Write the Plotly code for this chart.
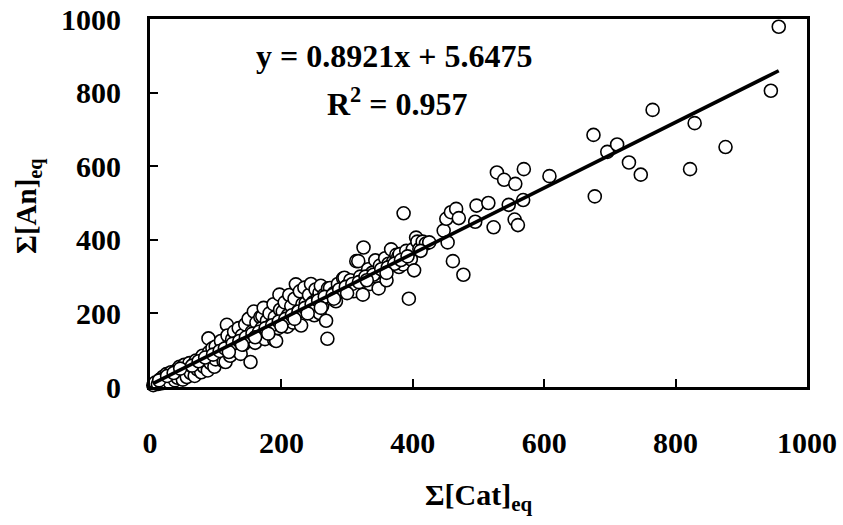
import plotly.graph_objects as go

cat_eq = [5, 8, 12, 15, 18, 20, 22, 25, 28, 30, 32, 35, 38, 40, 42, 45, 48, 50, 52, 55, 56, 58, 60, 62, 65, 68,
          70, 72, 75, 78, 80, 82, 85, 88, 89, 90, 92, 95, 95, 98, 100, 100,
          105, 108, 110, 112, 115, 117, 118, 120, 122, 125, 128, 130, 132, 135, 138, 140, 142, 145, 148, 150,
          153, 155, 158, 160, 162, 165, 168, 170, 171, 173, 175, 178, 180, 182, 185, 188, 189, 190, 192, 195,
          197, 198, 200,
          202, 205, 209, 210, 212, 215, 218, 220, 222, 225, 228, 230, 232, 235, 237, 240, 242, 245, 248, 250,
          252, 255, 258, 258, 260, 262, 265, 268, 270, 271, 274, 276, 280, 283, 286, 290, 294, 296, 300,
          305, 310, 314, 317, 320, 324, 325, 329, 332, 335, 338, 343, 345, 348, 350, 355, 358, 360, 363, 367,
          370, 375, 378, 379, 380, 385, 386, 390, 394, 397, 400, 402, 405, 407, 410, 415, 420, 425,
          447, 451, 453, 458, 461, 466, 470, 477, 495, 497, 515, 523, 528, 539, 546, 555, 556, 560, 568, 569,
          608, 675, 677, 696, 711, 729, 747, 765, 822, 829, 876, 945, 957,
          14, 26, 36, 46, 64, 74, 84, 96, 106, 114, 126, 136, 146, 156, 166, 176, 186, 196, 206, 216, 226,
          236, 246, 256, 266, 278, 288, 298, 308, 318, 328, 340, 352, 362, 372, 382, 392, 412,
          120, 140, 160, 180, 200, 220, 240, 260, 280, 300, 330, 360]
an_eq = [5, 12, 8, 20, 10, 28, 15, 35, 22, 12, 40, 30, 18, 45, 25, 55, 35, 20, 60, 42, 27, 50, 65, 38, 55, 30,
         72, 48, 60, 40, 85, 55, 70, 45, 132, 95, 65, 105, 80, 55, 110, 75,
         90, 125, 100, 70, 68, 169, 140, 110, 85, 130, 150, 100, 120, 160, 90, 140, 115, 170, 130, 185,
         68, 150, 205, 120, 175, 140, 190, 160, 192, 215, 130, 180, 150, 200, 170, 225, 128, 190, 125, 160,
         251, 210, 180,
         205, 230, 164, 195, 250, 220, 175, 240, 279, 205, 260, 167, 225, 270, 228, 210, 250, 280, 230, 195,
         265, 240, 201, 256, 275, 220, 250, 180, 131, 268, 269, 240, 255, 233, 280, 260, 295, 297, 275,
         290, 260, 342, 342, 300, 251, 379, 297, 320, 280, 310, 344, 300, 268, 330, 310, 350, 290, 335, 374,
         340, 359, 355, 326, 361, 333, 472, 370, 240, 347, 374, 317, 406, 395, 375, 395, 390, 393,
         425, 457, 393, 475, 342, 484, 459, 305, 449, 493, 500, 434, 583, 563, 495, 455, 552, 440, 508, 592,
         573, 685, 518, 639, 659, 610, 577, 753, 592, 717, 652, 805, 979,
         18, 30, 38, 50, 58, 70, 80, 88, 98, 105, 118, 125, 135, 145, 150, 160, 168, 178, 185, 195, 205,
         215, 225, 235, 245, 250, 265, 272, 280, 285, 300, 305, 320, 325, 335, 345, 355, 370,
         95, 115, 135, 145, 165, 185, 200, 215, 240, 255, 290, 310]

slope = 0.8921
intercept = 5.6475
eq_text = "y = 0.8921x + 5.6475"
r2_text = "R<sup>2</sup> = 0.957"
x_ticks = [0, 200, 400, 600, 800, 1000]
y_ticks = [0, 200, 400, 600, 800, 1000]

font_family = "Liberation Serif, Times New Roman, serif"

line_x = [min(cat_eq), max(cat_eq)]
line_y = [slope * v + intercept for v in line_x]

fig = go.Figure()
fig.add_trace(go.Scatter(
    x=cat_eq, y=an_eq, mode="markers",
    marker=dict(symbol="circle", size=13, color="white", line=dict(color="black", width=1.6)),
    cliponaxis=False, showlegend=False,
))
fig.add_trace(go.Scatter(
    x=line_x, y=line_y, mode="lines",
    line=dict(color="black", width=3.6), showlegend=False,
))

axis_common = dict(
    showgrid=False, zeroline=False, showline=True, linecolor="black", linewidth=3,
    mirror=True, ticks="inside", ticklen=8, tickwidth=2, tickcolor="black",
    ticklabeloverflow="allow",
    tickfont=dict(family=font_family, size=30, color="black", weight="bold"),
)
fig.update_xaxes(range=[0, 1000], tickvals=x_ticks, ticktext=[str(v) for v in x_ticks],
                 ticklabelstandoff=27, **axis_common)
fig.update_yaxes(range=[0, 1000], tickvals=y_ticks, ticktext=[str(v) for v in y_ticks],
                 ticklabelstandoff=20, **axis_common)

fig.add_annotation(x=371, y=900, xref="x", yref="y", text=eq_text, showarrow=False,
                   font=dict(family=font_family, size=32, color="black", weight="bold"))
fig.add_annotation(x=376, y=775, xref="x", yref="y", text=r2_text, showarrow=False,
                   font=dict(family=font_family, size=32, color="black", weight="bold"))
fig.add_annotation(x=0.5, y=0, xref="paper", yref="paper", text="Σ[Cat]<sub>eq</sub>",
                   showarrow=False, yanchor="middle", yshift=-110,
                   font=dict(family=font_family, size=30, color="black", weight="bold"))
fig.add_annotation(x=0, y=0.5, xref="paper", yref="paper", text="Σ[An]<sub>eq</sub>",
                   showarrow=False, xanchor="center", yanchor="middle", xshift=-122, yshift=-3,
                   textangle=-90,
                   font=dict(family=font_family, size=29, color="black", weight="bold"))

fig.update_layout(
    width=843, height=525,
    margin=dict(l=150, r=36, t=19, b=138, autoexpand=False),
    plot_bgcolor="white", paper_bgcolor="white",
)

fig.write_html("out.html",
               config={"displayModeBar": False},
               post_script="document.body.style.margin='0';document.body.style.overflow='hidden';")
